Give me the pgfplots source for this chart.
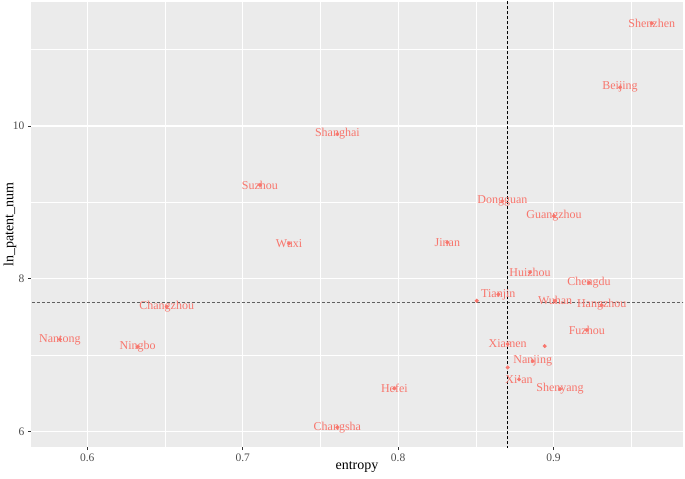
\documentclass[border=0pt]{standalone}
\usepackage{fontspec}
\setmainfont{Liberation Serif}
\usepackage{pgfplots}
\usepackage{pgfplotstable}
\pgfplotsset{compat=1.18}

\definecolor{ggpanel}{HTML}{EBEBEB}
\definecolor{ggred}{HTML}{F8766D}
\definecolor{gg30}{HTML}{4D4D4D}
\definecolor{gg20}{HTML}{333333}

% city, entropy, log of patent count
\pgfplotstableread{
x y name
0.9632 11.346 Shenzhen
0.9428 10.507 Beijing
0.7609 9.895 Shanghai
0.7111 9.227 Suzhou
0.8671 9.017 Dongguan
0.9003 8.820 Guangzhou
0.7298 8.463 Wuxi
0.8317 8.476 Jinan
0.8849 8.083 Huizhou
0.9228 7.946 Chengdu
0.8645 7.794 Tianjin
0.9010 7.710 Wuhan
0.9310 7.654 Hangzhou
0.6511 7.632 Changzhou
0.5824 7.204 Nantong
0.6324 7.108 Ningbo
0.9214 7.326 Fuzhou
0.8705 7.143 Xiamen
0.8866 6.920 Nanjing
0.8778 6.680 Xi'an
0.9042 6.553 Shenyang
0.7976 6.562 Hefei
0.7609 6.051 Changsha
}\cities

% points whose labels were dropped (overlap)
\pgfplotstableread{
x y
0.8506 7.710
0.8943 7.117
0.8705 6.837
}\unlabeled

\begin{document}
\begin{tikzpicture}
\begin{axis}[
    scale only axis,
    width=652pt, height=445pt,
    xmin=0.5638, xmax=0.9833,
    ymin=5.794, ymax=11.625,
    axis background/.style={fill=ggpanel},
    axis x line*=bottom, axis y line*=left,
    axis line style={draw=none},
    xtick={0.6,0.7,0.8,0.9},
    xticklabels={0.6,0.7,0.8,0.9},
    ytick={6,8,10},
    yticklabels={6,8,10},
    minor xtick={0.65,0.75,0.85,0.95},
    minor ytick={7,9,11},
    grid=both,
    major grid style={white, line width=1.1pt},
    minor grid style={white, line width=0.55pt},
    tick align=outside,
    major tick length=3pt,
    minor tick length=0pt,
    tick style={gg20, line width=0.6pt},
    /pgf/number format/assume math mode=true,
    ticklabel style={font=\fontsize{11.5}{11.5}\selectfont, text=gg30},
    xlabel={entropy},
    ylabel={ln\_patent\_num},
    label style={font=\fontsize{14}{14}\selectfont, text=black},
    xlabel style={at={(axis description cs:0.5,-0.045)}, anchor=center},
    ylabel style={at={(axis description cs:-0.0322,0.5)}, anchor=center},
    clip=true,
]
\addplot[only marks, mark=*, mark size=1.8pt, ggred, mark options={draw=none, fill=ggred}]
    table {\unlabeled};
\addplot[only marks, mark=*, mark size=1.8pt, ggred, mark options={draw=none, fill=ggred},
    nodes near coords, point meta=explicit symbolic,
    nodes near coords align={anchor=center},
    every node near coord/.append style={anchor=center, inner sep=0pt,
        font=\fontsize{12}{12}\selectfont, text=ggred}]
    table[meta=name] {\cities};
% reference lines
\addplot[gray!75!black, line width=0.7pt, dash pattern=on 3pt off 2pt]
    coordinates {(0.50,7.689) (1.00,7.689)};
\addplot[black, line width=0.8pt, dash pattern=on 3pt off 2pt]
    coordinates {(0.8703,5.5) (0.8703,12.0)};
\end{axis}
\pgfresetboundingbox
\path[use as bounding box] ([shift={(-31pt,-31pt)}]current axis.south west)
    rectangle ([shift={(2pt,2pt)}]current axis.north east);
\end{tikzpicture}
\end{document}
